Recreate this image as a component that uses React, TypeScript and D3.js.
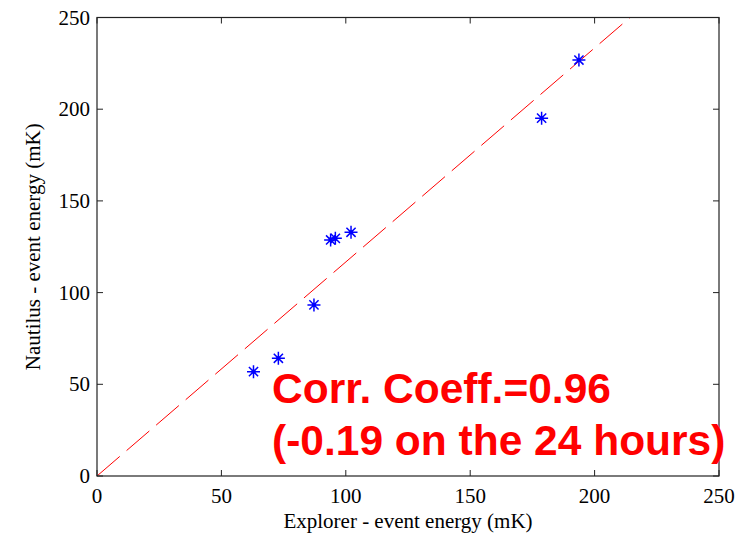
import React from 'react';
import * as d3 from 'd3';

// Explorer vs Nautilus event energies (mK)
const explorer = [62.9, 72.9, 87.2, 93.9, 95.8, 102.1, 178.7, 193.7];
const nautilus = [56.9, 64.2, 93.3, 128.7, 129.6, 132.9, 195.1, 226.8];
const ticks = [0, 50, 100, 150, 200, 250];
const fitSlope = 1.167;
const notes = ['Corr. Coeff.=0.96', '(-0.19 on the 24 hours)'];

const W = 748;
const H = 535;
const left = 97;
const right = 719;
const top = 17.5;
const bottom = 476;

const App = () => {
  const x = d3.scaleLinear().domain([0, 250]).range([left, right]);
  const y = d3.scaleLinear().domain([0, 250]).range([bottom, top]);

  const fit = d3.line<number>()
    .x(d => x(d))
    .y(d => y(fitSlope * d));
  const fitEnd = 250 / fitSlope;

  // MATLAB style '*' marker
  const r = 6.5;
  const star = [0, 45, 90, 135].map(a => {
    const dx = r * Math.cos((a * Math.PI) / 180);
    const dy = r * Math.sin((a * Math.PI) / 180);
    return `M${-dx},${-dy}L${dx},${dy}`;
  }).join('');

  const serif = 'Liberation Serif, Times New Roman, serif';
  const sans = 'Liberation Sans, Arial, sans-serif';
  const tick = 6;

  return (
    <svg width={W} height={H} style={{ position: 'absolute', left: 0, top: 0, background: '#fff' }}>
      <defs>
        <clipPath id="plot">
          <rect x={left} y={top} width={right - left} height={bottom - top} />
        </clipPath>
      </defs>
      <g clipPath="url(#plot)">
        <path
          d={fit([0, fitEnd]) || ''}
          fill="none"
          stroke="#ff0000"
          strokeWidth={1}
          strokeDasharray="30,9"
        />
      </g>

      {explorer.map((v, i) => (
        <g key={i} transform={`translate(${x(v)},${y(nautilus[i])})`}>
          <path d={star} stroke="#0000ff" strokeWidth={1.5} fill="none" />
          <circle r={2} fill="#0000ff" />
        </g>
      ))}

      <rect x={left} y={top} width={right - left} height={bottom - top} fill="none" stroke="#222" strokeWidth={1.2} />

      {ticks.map(t => (
        <g key={'x' + t}>
          <line x1={x(t)} x2={x(t)} y1={bottom} y2={bottom - tick} stroke="#222" />
          <line x1={x(t)} x2={x(t)} y1={top} y2={top + tick} stroke="#222" />
          <text x={x(t)} y={503} textAnchor="middle" fontFamily={serif} fontSize={21} fill="#000">{t}</text>
        </g>
      ))}
      {ticks.map(t => (
        <g key={'y' + t}>
          <line x1={left} x2={left + tick} y1={y(t)} y2={y(t)} stroke="#222" />
          <line x1={right} x2={right - tick} y1={y(t)} y2={y(t)} stroke="#222" />
          <text x={90} y={y(t) + 7} textAnchor="end" fontFamily={serif} fontSize={21} fill="#000">{t}</text>
        </g>
      ))}

      <text x={(left + right) / 2} y={528} textAnchor="middle" fontFamily={serif} fontSize={21} fill="#000">
        Explorer - event energy (mK)
      </text>
      <text
        transform={`translate(40,${(top + bottom) / 2}) rotate(-90)`}
        textAnchor="middle"
        fontFamily={serif}
        fontSize={21}
        fill="#000"
      >
        Nautilus - event energy (mK)
      </text>

      <text x={272} y={403} fontFamily={sans} fontWeight="bold" fontSize={42.5} fill="#ff0000">
        {notes[0]}
      </text>
      <text x={272} y={455} fontFamily={sans} fontWeight="bold" fontSize={42.5} fill="#ff0000">
        {notes[1]}
      </text>
    </svg>
  );
};

export default App;
